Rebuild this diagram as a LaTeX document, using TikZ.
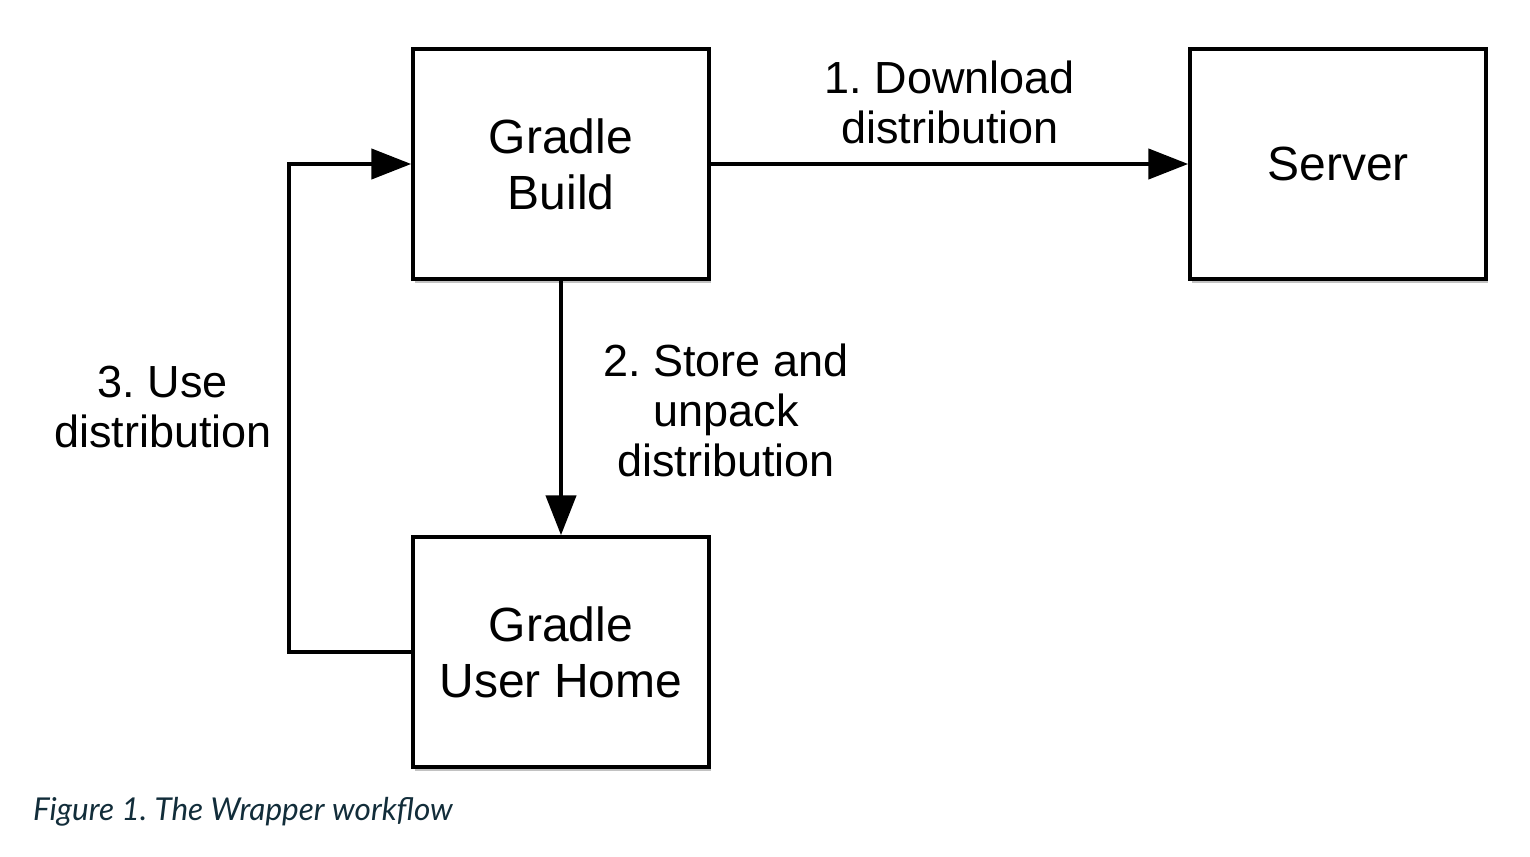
\documentclass[tikz,border=0pt]{standalone}
\usepackage{fontspec}
\setmainfont{Liberation Sans}
\newfontfamily\capfont{Lato}
\usetikzlibrary{arrows.meta,shadows}
\definecolor{capcol}{RGB}{18,45,58}
\frenchspacing
\begin{document}
\begin{tikzpicture}[x=1pt,y=-1pt,
  boxnode/.style={draw=black,line width=3.5pt,fill=white,minimum width=296pt,minimum height=230pt,
    align=center,font=\fontsize{48}{56}\selectfont,inner sep=0pt,
    drop shadow={shadow xshift=2pt,shadow yshift=-4pt,opacity=0.4,fill=black!60}},
  lbl/.style={align=center,font=\fontsize{45}{50}\selectfont,inner sep=0pt},
  conn/.style={line width=4.5pt,-{Triangle[length=40pt,width=30pt]}}]
\useasboundingbox (0,0) rectangle (1530,856);
\node[boxnode] (gb) at (561,164) {Gradle\\Build};
\node[boxnode] (srv) at (1338,164) {Server};
\node[boxnode] (uh) at (561,652) {Gradle\\User Home};
\coordinate (c1) at (289,652);
\coordinate (c2) at (289,164);
\draw[conn] (gb.east) -- (srv.west);
\draw[conn] (gb.south) -- (uh.north);
\draw[conn,line join=miter] (uh.west) -- (c1) -- (c2) -- (gb.west);
\node[lbl] (l1) at (950,102) {1. Download\\distribution};
\node[lbl] (l2) at (726,410) {2. Store and\\unpack\\distribution};
\node[lbl] (l3) at (163,407) {3. Use\\distribution};
\node[anchor=base west,inner sep=0pt,text=capcol,font=\capfont\itshape\fontsize{31.5}{36}\selectfont] (cap) at (33,820) {Figure 1. The Wrapper workflow};
\end{tikzpicture}
\end{document}
